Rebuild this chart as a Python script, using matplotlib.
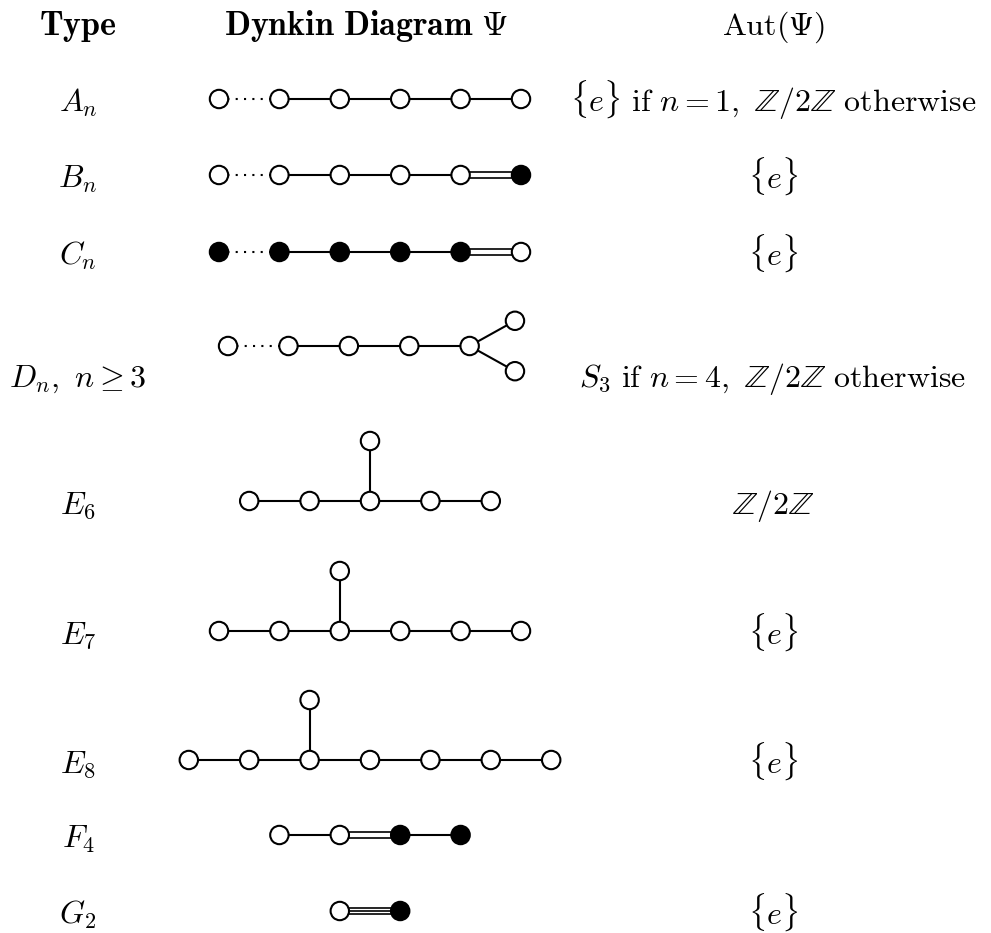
import matplotlib.pyplot as plt
from matplotlib.patches import Circle
import numpy as np

plt.rcParams['mathtext.fontset'] = 'cm'

# table text
headers = [r'$\mathbf{Type}$', r'$\mathbf{Dynkin\ Diagram}\ \Psi$', r'$\mathrm{Aut}(\Psi)$']
types = [r'$A_n$', r'$B_n$', r'$C_n$', r'$D_n,\ n\geq 3$', r'$E_6$',
         r'$E_7$', r'$E_8$', r'$F_4$', r'$G_2$']
auts = [r'$\{e\}\ \mathrm{if}\ n=1,\ \mathbb{Z}/2\mathbb{Z}\ \mathrm{otherwise}$',
        r'$\{e\}$', r'$\{e\}$',
        r'$S_3\ \mathrm{if}\ n=4,\ \mathbb{Z}/2\mathbb{Z}\ \mathrm{otherwise}$',
        r'$\mathbb{Z}/2\mathbb{Z}$', r'$\{e\}$', r'$\{e\}$', '', r'$\{e\}$']

# diagrams: nodes in lattice units (column, level), filled flag, edges (i, j, kind)
# kind: 0 dotted, 1 single, 2 double, 3 triple
a_nodes = [(0, 0), (1, 0), (2, 0), (3, 0), (4, 0), (5, 0)]
a_fill = [0, 0, 0, 0, 0, 0]
a_edges = [(0, 1, 0), (1, 2, 1), (2, 3, 1), (3, 4, 1), (4, 5, 1)]

b_nodes = [(0, 0), (1, 0), (2, 0), (3, 0), (4, 0), (5, 0)]
b_fill = [0, 0, 0, 0, 0, 1]
b_edges = [(0, 1, 0), (1, 2, 1), (2, 3, 1), (3, 4, 1), (4, 5, 2)]

c_nodes = [(0, 0), (1, 0), (2, 0), (3, 0), (4, 0), (5, 0)]
c_fill = [1, 1, 1, 1, 1, 0]
c_edges = [(0, 1, 0), (1, 2, 1), (2, 3, 1), (3, 4, 1), (4, 5, 2)]

d_nodes = [(0.15, 0), (1.15, 0), (2.15, 0), (3.15, 0), (4.15, 0), (4.9, 0.42), (4.9, -0.42)]
d_fill = [0, 0, 0, 0, 0, 0, 0]
d_edges = [(0, 1, 0), (1, 2, 1), (2, 3, 1), (3, 4, 1), (4, 5, 1), (4, 6, 1)]

e6_nodes = [(0.5, 0), (1.5, 0), (2.5, 0), (3.5, 0), (4.5, 0), (2.5, 1)]
e6_fill = [0, 0, 0, 0, 0, 0]
e6_edges = [(0, 1, 1), (1, 2, 1), (2, 3, 1), (3, 4, 1), (2, 5, 1)]

e7_nodes = [(0, 0), (1, 0), (2, 0), (3, 0), (4, 0), (5, 0), (2, 1)]
e7_fill = [0, 0, 0, 0, 0, 0, 0]
e7_edges = [(0, 1, 1), (1, 2, 1), (2, 3, 1), (3, 4, 1), (4, 5, 1), (2, 6, 1)]

e8_nodes = [(-0.5, 0), (0.5, 0), (1.5, 0), (2.5, 0), (3.5, 0), (4.5, 0), (5.5, 0), (1.5, 1)]
e8_fill = [0, 0, 0, 0, 0, 0, 0, 0]
e8_edges = [(0, 1, 1), (1, 2, 1), (2, 3, 1), (3, 4, 1), (4, 5, 1), (5, 6, 1), (2, 7, 1)]

f4_nodes = [(1, 0), (2, 0), (3, 0), (4, 0)]
f4_fill = [0, 0, 1, 1]
f4_edges = [(0, 1, 1), (1, 2, 2), (2, 3, 1)]

g2_nodes = [(2, 0), (3, 0)]
g2_fill = [0, 1]
g2_edges = [(0, 1, 3)]

diagrams = [(a_nodes, a_fill, a_edges), (b_nodes, b_fill, b_edges),
            (c_nodes, c_fill, c_edges), (d_nodes, d_fill, d_edges),
            (e6_nodes, e6_fill, e6_edges), (e7_nodes, e7_fill, e7_edges),
            (e8_nodes, e8_fill, e8_edges), (f4_nodes, f4_fill, f4_edges),
            (g2_nodes, g2_fill, g2_edges)]

# layout (pixels)
row_y = [99, 175, 252, 346, 501, 631, 760, 835, 911]
text_y = [99, 175, 252, 374, 501, 631, 760, 835, 911]
x0, dx, dy = 219, 60.4, 60
col_x = [78, 366, 773]
head_fs = [24.5, 24.5, 23]
fs = 23

fig = plt.figure(figsize=(9.91, 9.33), dpi=100)
ax = fig.add_axes([0, 0, 1, 1])
ax.set_xlim(0, 991)
ax.set_ylim(933, 0)
ax.set_aspect('equal')
ax.axis('off')

for h, cx, hf in zip(headers, col_x, head_fs):
    ax.text(cx, 35, h, ha='center', va='baseline', fontsize=hf)

for t, a, ty in zip(types, auts, text_y):
    ax.text(col_x[0], ty + 13, t, ha='center', va='baseline', fontsize=fs)
    if a:
        ax.text(col_x[2], ty + 13, a, ha='center', va='baseline', fontsize=fs)

for (nodes, fill, edges), ry in zip(diagrams, row_y):
    pts = np.array([(x0 + c * dx, ry - l * dy) for c, l in nodes])
    for i, j, kind in edges:
        p, q = pts[i], pts[j]
        if kind == 0:
            ax.plot([p[0], q[0]], [p[1], q[1]], color='black', lw=1.5,
                    linestyle=(0, (1, 3)), zorder=1)
        elif kind == 1:
            ax.plot([p[0], q[0]], [p[1], q[1]], color='black', lw=1.5, zorder=1)
        else:
            d = (q - p) / np.hypot(*(q - p))
            n = np.array([-d[1], d[0]])
            offs = [-3, 3] if kind == 2 else [-3.4, 0, 3.4]
            for o in offs:
                ax.plot([p[0] + o * n[0], q[0] + o * n[0]],
                        [p[1] + o * n[1], q[1] + o * n[1]],
                        color='black', lw=1.2, zorder=1)
    for (x, y), f in zip(pts, fill):
        ax.add_patch(Circle((x, y), 9.2, facecolor='black' if f else 'white',
                            edgecolor='black', lw=1.5, zorder=2))

fig.savefig('out.png', dpi=100)
